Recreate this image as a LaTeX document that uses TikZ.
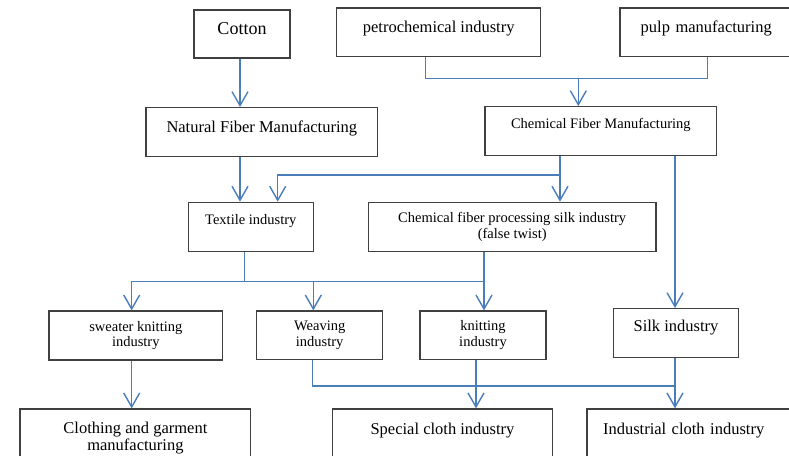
\documentclass[tikz,border=0pt]{standalone}
\usepackage{fontspec}
\setmainfont{Liberation Serif}
\usetikzlibrary{arrows.meta}
\definecolor{linkblue}{RGB}{74,126,187}
\definecolor{boxgray}{RGB}{64,64,64}
\begin{document}
\begin{tikzpicture}[x=1pt, y=-1pt]
		\tikzset{
			box/.style={draw=boxgray, line width=1.3pt, fill=white, inner sep=2pt, align=center},
			sz/.style 2 args={minimum width=#1pt, minimum height=#2pt},
			lefttext/.style 2 args={align=left, inner xsep=#1pt, text width=#2pt},
			big/.style={font=\fontsize{16.5}{17.5}\selectfont},
			small/.style={font=\fontsize{14.5}{15.5}\selectfont},
			raise/.style={text height=0pt, text depth=#1pt},
			link/.style={draw=linkblue, line width=1.4pt},
			arr/.style={link, -{Straight Barb[length=14pt, width=16pt]}},
		}
		\useasboundingbox (0,0) rectangle (789,455);
		\clip (0,0) rectangle (789,455);
		
		% Raw materials on top.
		\path (242,34)       node[box, sz={96}{48}, font=\fontsize{18}{20}\selectfont, raise=0] (cot) {Cotton};
		\path (438.7,32.3)   node[box, sz={204}{48.7}, big, raise=0] (pet) {petrochemical industry};
		\path (710,32.3)     node[box, sz={180}{48.7}, lefttext={20.7}{138.6}, big, raise=0] (pulp) {pulp manufacturing};
		
		% The two kinds of fiber manufacturing.
		\path (261.8,132.2)  node[box, sz={231.7}{49}, big, raise=0] (nat) {Natural Fiber Manufacturing};
		\path (600.8,131.2)  node[box, sz={231.7}{49}, small, raise=6] (chm) {Chemical Fiber Manufacturing};
		
		% Processing.
		\path (250.8,227)    node[box, sz={125}{49.4}, small, raise=6] (tex) {Textile industry};
		\path (512.2,227)    node[box, sz={287.7}{49.4}, small] (prc) {Chemical fiber processing silk industry\\(false twist)};
		
		% The four industries.
		\path (135.8,335.5)  node[box, sz={173.7}{49}, small] (swt) {sweater knitting\\industry};
		\path (319.7,335.2)  node[box, sz={126}{48.3}, small] (wea) {Weaving\\industry};
		\path (483,335.2)    node[box, sz={126}{48.3}, small] (kni) {knitting\\industry};
		\path (676,333.2)    node[box, sz={125.4}{49}, big, raise=3] (slk) {Silk industry};
		
		% Products at the bottom.
		\path (135.4,438)    node[box, sz={230.7}{58}, big] (clo) {Clothing and garment\\manufacturing};
		\path (442.5,438)    node[box, sz={220.4}{58}, big, raise=8] (spc) {Special cloth industry};
		\path (693.5,438)    node[box, sz={213}{58}, lefttext={16}{181}, big, raise=8] (ind) {Industrial cloth industry};
		
		% Bend points of the connectors.
		\coordinate (rawj) at (578.3,78.3); % below the raw materials
		\coordinate (chmj) at (560,175);    % split above textile industry
		\coordinate (midj) at (484,281.7);  % joint above the four industries
		\coordinate (lowj) at (675,386);    % joint above the cloth industries
		
		% Connectors of the upper half.
		\draw[link] (425.7,0 |- pet.south) |- (rawj) -| (707.7,0 |- pulp.south);
		\draw[arr] (rawj) -- (rawj |- chm.north);
		\draw[arr] (240,0 |- cot.south) -- (240,0 |- nat.north);
		\draw[arr] (240,0 |- nat.south) -- (240,0 |- tex.north);
		\draw[arr] (chmj |- chm.south) -- (chmj |- prc.north);
		\draw[arr] (chmj) -| (277.7,0 |- tex.north);
		\draw[arr] (lowj |- chm.south) -- (lowj |- slk.north);
		
		% Connectors of the lower half.
		\draw[link] (244.3,0 |- tex.south) -- (244.3,0 |- midj);
		\draw[link] (midj |- prc.south) -- (midj);
		\draw[arr] (midj) -| (131.7,0 |- swt.north);
		\draw[arr] (313.3,0 |- midj) -- (313.3,0 |- wea.north);
		\draw[arr] (midj) -- (midj |- kni.north);
		\draw[arr] (131.7,0 |- swt.south) -- (131.7,0 |- clo.north);
		\draw[link] (312.7,0 |- wea.south) |- (lowj);
		\draw[arr] (476,0 |- kni.south) -- (476,0 |- spc.north);
		\draw[arr] (lowj |- slk.south) -- (lowj |- ind.north);
	\end{tikzpicture}
\end{document}
